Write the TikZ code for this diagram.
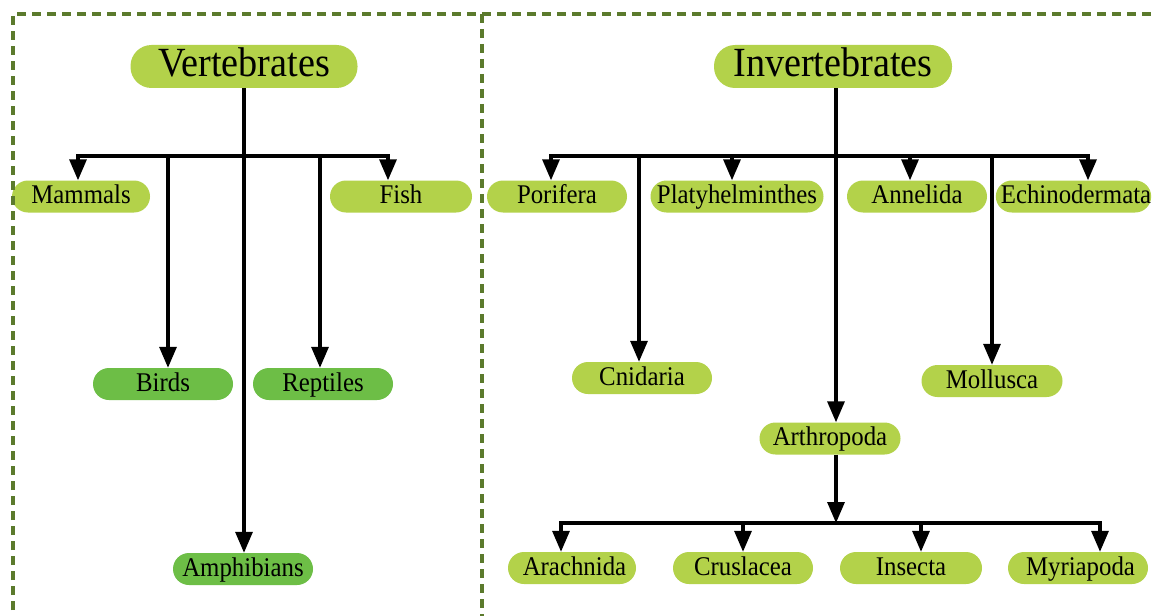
\documentclass[tikz,border=0pt]{standalone}
\usepackage{fontspec}
\setmainfont{Liberation Serif}[FakeStretch=0.92]
\usetikzlibrary{arrows.meta}
\definecolor{lgreen}{HTML}{B3D24A}
\definecolor{dgreen}{HTML}{6DBE46}
\definecolor{framecol}{HTML}{5B7A2C}
\begin{document}
\begin{tikzpicture}[x=1pt,y=-1pt,
  box/.style={rectangle, rounded corners=16pt, fill=lgreen, minimum width=140pt, minimum height=32pt, inner sep=0pt, text height=20pt, text depth=6pt, font=\fontsize{27}{30}\selectfont},
  dbox/.style={box, fill=dgreen},
  title/.style={rectangle, rounded corners=21pt, fill=lgreen, minimum height=43pt, inner sep=0pt, text height=30pt, text depth=9pt, font=\fontsize{41.5}{44}\selectfont},
  ln/.style={line width=3.3pt},
  arr/.style={line width=3.3pt, -{Triangle[width=17pt,length=21pt]}},
  border/.style={line width=4pt, draw=framecol, dash pattern=on 9pt off 6pt}]
\useasboundingbox (0,0) rectangle (1155,615);
\fill[white] (0,0) rectangle (1155,615);

% nodes
\node[title, minimum width=227pt] (vert) at (244,66.5) {Vertebrates};
\node[title, minimum width=238pt] (inv) at (833,66.5) {Invertebrates};

\node[box, minimum width=138pt] (mam) at (81,196.5) {Mammals};
\node[box, minimum width=142pt] (fish) at (401,196.5) {Fish\hspace{8pt}};
\node[dbox] (birds) at (163,384) {Birds};
\node[dbox] (rept) at (323,384) {Reptiles\hspace{16pt}};
\node[dbox] (amph) at (243,569) {Amphibians};

\node[box] (pori) at (557,196.5) {Porifera\hspace{28pt}};
\node[box, minimum width=173pt] (platy) at (737,196.5) {Platyhelminthes};
\node[box] (anne) at (917,196.5) {Annelida\hspace{12pt}};
\node[box, minimum width=153pt] (echi) at (1073.5,196.5) {\hspace{5pt}Echinodermata};
\node[box] (cnid) at (642,378) {Cnidaria\hspace{12pt}};
\node[box, minimum width=141pt] (moll) at (992,381) {Mollusca};
\node[box, minimum width=141pt] (arth) at (830,438.5) {Arthropoda};
\node[box, minimum width=128pt] (arach) at (572,568) {\hspace{5pt}Arachnida};
\node[box] (crus) at (743,568) {Cruslacea\hspace{16pt}};
\node[box, minimum width=142pt] (insec) at (911,568) {Insecta\hspace{38pt}};
\node[box] (myri) at (1078,568) {\hspace{5pt}Myriapoda};

% vertebrates connectors
\coordinate (vb) at (244,156);
\draw[ln] (vert.south) -- (vb);
\draw[arr] (vb) -| ([xshift=-3pt]mam.north);
\draw[arr] (vb) -| ([xshift=5pt]birds.north);
\draw[arr] (vb) -- (vb |- amph.north);
\draw[arr] (vb) -| ([xshift=-3pt]rept.north);
\draw[arr] (vb) -| ([xshift=-13pt]fish.north);

% invertebrates connectors
\coordinate (ib) at (836,156);
\draw[ln] ([xshift=3pt]inv.south) -- (ib);
\draw[arr] (ib) -| ([xshift=-6pt]pori.north);
\draw[arr] (ib) -| ([xshift=-3pt]cnid.north);
\draw[arr] (ib) -| ([xshift=-5pt]platy.north);
\draw[arr] (ib) -- ([xshift=6pt]arth.north);
\draw[arr] (ib) -| ([xshift=-7pt]anne.north);
\draw[arr] (ib) -| (moll.north);
\draw[arr] (ib) -| ([xshift=14.5pt]echi.north);

% arthropoda connectors
\coordinate (ab) at (836,523);
\draw[arr] ([xshift=6pt]arth.south) -- (ab);
\draw[arr] (ab) -| ([xshift=-11pt]arach.north);
\draw[arr] (ab) -| (crus.north);
\draw[arr] (ab) -| ([xshift=10pt]insec.north);
\draw[arr] (ab) -| ([xshift=22pt]myri.north);

% dashed frame
\begin{scope}
\clip (0,0) rectangle (1155,615);
\draw[border] (13,625) -- (13,14) -- (1165,14);
\draw[border] (482,14) -- (482,625);
\end{scope}
\end{tikzpicture}
\end{document}
